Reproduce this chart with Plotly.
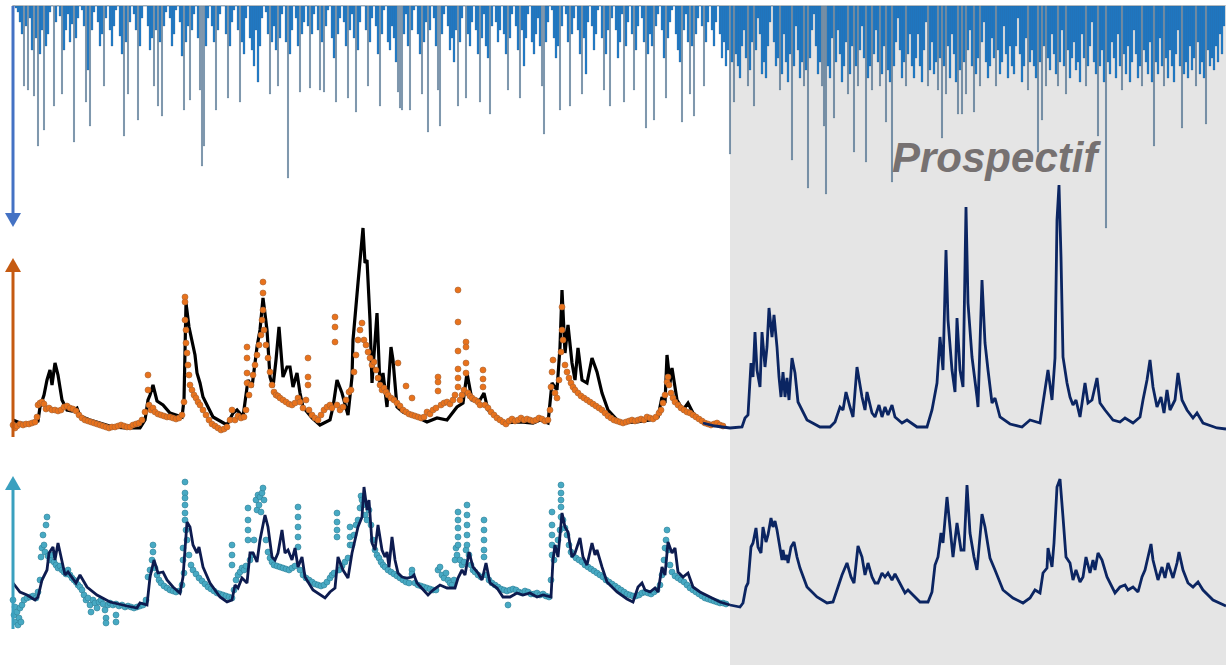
import plotly.graph_objects as go

W, H = 1226, 665

# ---------------- DATA ----------------
# time axis: years since start of record (historic period ends at 7.18, prospective afterwards)
PROSPECTIVE_START = 7.18
T_END = 12.14

# rainfall (mm), one value every 0.02 year starting at 0.02
rain = [
    0, 1, 3, 8, 14, 40, 10, 42, 6, 22, 45, 16, 70, 24, 12, 62, 20, 14, 3, 0,
    50, 8, 0, 5, 44, 22, 12, 4, 18, 9, 68, 16, 6, 0, 2, 10, 48, 32, 60, 12,
    3, 0, 8, 20, 14, 40, 6, 0, 12, 20,
    10, 2, 0, 15, 24, 65, 18, 44, 8, 0, 4, 12, 57, 20, 6, 0, 0, 10, 22, 16,
    40, 12, 50, 18, 55, 10, 3, 0, 6, 20, 14, 2, 0, 8, 25, 52, 18, 10, 47, 12,
    4, 0, 16, 42, 80, 70, 20, 6, 0, 10,
    18, 52, 12, 4, 0, 0, 14, 46, 20, 8, 2, 0, 12, 48, 18, 24, 6, 0, 16, 22,
    30, 12, 38, 20, 6, 0, 3, 14, 44, 18, 10, 22, 40, 16, 4, 0, 18, 86, 24, 12,
    0, 6, 20, 43, 14, 8, 0, 10, 41, 14,
    4, 0, 12, 42, 18, 43, 10, 2, 0, 16, 26, 48, 14, 6, 0, 8, 20, 46, 12, 4,
    16, 53, 22, 8, 0, 0, 12, 40, 18, 6, 0, 10, 24, 50, 14, 2, 0, 18, 22, 10,
    16, 28, 43, 51, 52, 14, 4, 20, 52, 12,
    2, 0, 14, 24, 44, 18, 8, 63, 12, 0, 6, 20, 42, 60, 14, 4, 0, 10, 22, 16,
    28, 12, 50, 18, 6, 0, 46, 14, 20, 8, 0, 12, 24, 48, 16, 4, 20, 26, 54, 10,
    0, 8, 18, 12, 0, 14, 24, 42, 16, 4,
    0, 10, 22, 46, 12, 30, 16, 4, 0, 18, 24, 14, 6, 20, 40, 64, 18, 8, 0, 2,
    16, 26, 20, 52, 10, 0, 4, 18, 50, 14, 6, 0, 12, 24, 44, 16, 34, 8, 0, 10,
    22, 14, 2, 0, 16, 42, 24, 12, 50, 6,
    0, 12, 26, 18, 4, 48, 20, 8, 0, 14, 42, 22, 10, 0, 6, 18, 61, 24, 14, 20,
    57, 10, 4, 0, 12, 26, 46, 16, 8, 2, 0, 14, 22, 28, 58, 12, 4, 18, 44, 20,
    55, 14, 6, 0, 10, 40, 18, 8, 0, 12,
    20, 8, 0, 14, 26, 18, 30, 22, 74, 28, 48, 24, 30, 36, 20, 12, 26, 40, 32, 18,
    50, 22, 6, 14, 34, 28, 36, 20, 8, 0, 18, 30, 26, 42, 34, 14, 28, 38, 24, 77,
    30, 10, 22, 36, 28, 40, 32, 91, 26, 12,
    4, 20, 34, 28, 40, 60, 94, 30, 36, 16, 56, 28, 12, 24, 38, 30, 18, 44, 34, 20,
    73, 30, 40, 22, 10, 26, 78, 36, 30, 42, 24, 12, 28, 40, 34, 20, 58, 32, 38, 88,
    30, 18, 6, 22, 36, 28, 40, 24, 14, 30,
    36, 26, 14, 30, 38, 22, 8, 40, 32, 18, 34, 28, 42, 26, 66, 30, 44, 20, 36, 14,
    24, 38, 54, 32, 54, 28, 44, 22, 12, 30, 53, 34, 26, 40, 18, 8, 28, 36, 30, 16,
    26, 40, 22, 34, 28, 10, 24, 36, 20, 30,
    34, 20, 6, 24, 38, 30, 16, 42, 28, 22, 30, 36, 73, 28, 57, 20, 40, 26, 32, 14,
    24, 34, 40, 28, 12, 30, 44, 22, 36, 26, 18, 32, 28, 38, 14, 26, 40, 30, 20, 8,
    28, 34, 65, 30, 22, 38, 111, 28, 34, 18,
    26, 36, 14, 30, 42, 24, 34, 20, 38, 28, 12, 24, 36, 30, 40, 22, 28, 34, 18, 38,
    70, 28, 34, 16, 30, 40, 26, 36, 22, 30, 38, 24, 12, 30, 61, 34, 28, 36, 20, 32,
    26, 40, 18, 34, 28, 36, 59, 22, 30, 26,
    32, 20, 28, 14, 24, 10,
]
rain_t = [round(0.02 + 0.02 * i, 2) for i in range(len(rain))]

# simulated discharge, historic period (time, m3/s)
sim_q = [
    (0.01, 1.7), (0.08, 1.4), (0.18, 1.3), (0.26, 1.6), (0.28, 3.0), (0.32, 4.2), (0.35, 5.7),
    (0.38, 6.7), (0.40, 5.2), (0.43, 7.4), (0.46, 6.2), (0.50, 3.7), (0.55, 2.7), (0.60, 2.6),
    (0.65, 2.9), (0.68, 2.1), (0.78, 1.7), (0.88, 1.4), (1.01, 1.0), (1.13, 0.9), (1.28, 0.9),
    (1.33, 1.7), (1.36, 3.7), (1.38, 4.2), (1.41, 5.2), (1.45, 3.6), (1.51, 3.2), (1.58, 2.4),
    (1.70, 2.0), (1.72, 3.7), (1.74, 13.4), (1.77, 11.0), (1.80, 9.4), (1.83, 8.2), (1.85, 6.4),
    (1.88, 5.4), (1.91, 4.0), (2.01, 2.0), (2.15, 1.2), (2.21, 2.4), (2.25, 2.7), (2.31, 2.0),
    (2.36, 5.7), (2.40, 5.0), (2.45, 9.0), (2.48, 10.7), (2.51, 13.9), (2.55, 10.7), (2.58, 6.0),
    (2.61, 5.0), (2.64, 7.7), (2.67, 11.0), (2.71, 6.0), (2.75, 7.0), (2.78, 7.0), (2.81, 5.0),
    (2.85, 6.4), (2.88, 4.4), (2.91, 3.0), (3.00, 1.9), (3.08, 1.2), (3.18, 1.7), (3.21, 3.0),
    (3.25, 5.7), (3.30, 4.4), (3.36, 2.2), (3.40, 6.0), (3.41, 9.7), (3.46, 15.4), (3.49, 18.7),
    (3.51, 20.9), (3.53, 17.4), (3.55, 17.7), (3.58, 11.7), (3.60, 5.4), (3.65, 12.4), (3.68, 5.0),
    (3.71, 6.4), (3.75, 3.0), (3.79, 9.0), (3.81, 7.7), (3.85, 3.0), (3.91, 2.5), (4.05, 2.0),
    (4.15, 1.5), (4.25, 1.9), (4.35, 1.7), (4.45, 3.0), (4.51, 3.4), (4.55, 6.4), (4.60, 3.7),
    (4.68, 3.7), (4.72, 4.4), (4.76, 2.7), (4.81, 2.4), (4.91, 1.4), (5.08, 1.5), (5.21, 1.4),
    (5.28, 1.7), (5.36, 1.4), (5.40, 5.4), (5.45, 4.7), (5.48, 9.0), (5.50, 14.7), (5.53, 8.4),
    (5.56, 11.2), (5.60, 7.4), (5.63, 5.7), (5.66, 8.9), (5.70, 5.7), (5.75, 5.4), (5.80, 7.9),
    (5.85, 6.5), (5.90, 4.4), (5.96, 2.7), (6.08, 1.4), (6.25, 1.5), (6.38, 1.7), (6.46, 2.0),
    (6.50, 4.0), (6.53, 3.4), (6.55, 8.2), (6.58, 5.4), (6.60, 6.9), (6.65, 3.7), (6.71, 2.7),
    (6.76, 3.4), (6.81, 2.4), (6.91, 1.4), (7.00, 1.2),
]

# projected discharge
proj_q = [
    (6.91, 1.4), (7.03, 1.1), (7.18, 0.9), (7.30, 1.0), (7.33, 1.9), (7.36, 2.2), (7.39, 7.4),
    (7.41, 6.0), (7.43, 10.5), (7.45, 6.7), (7.48, 5.0), (7.50, 10.5), (7.53, 7.0), (7.55, 9.0),
    (7.57, 12.9), (7.60, 10.0), (7.62, 12.2), (7.65, 9.0), (7.67, 6.0), (7.69, 4.0), (7.71, 6.5),
    (7.73, 4.0), (7.75, 5.9), (7.77, 3.7), (7.80, 7.9), (7.83, 6.4), (7.86, 3.5), (7.95, 1.7),
    (8.08, 1.0), (8.18, 1.0), (8.23, 1.5), (8.28, 3.0), (8.31, 2.7), (8.34, 4.5), (8.38, 3.0),
    (8.41, 2.0), (8.45, 7.0), (8.50, 4.0), (8.53, 2.7), (8.55, 4.5), (8.60, 2.4), (8.63, 2.0),
    (8.67, 3.2), (8.70, 2.0), (8.73, 3.0), (8.76, 2.2), (8.80, 3.2), (8.83, 2.0), (8.90, 1.4),
    (8.95, 1.7), (9.05, 1.0), (9.15, 1.0), (9.20, 2.7), (9.23, 4.4), (9.25, 5.4), (9.28, 10.0),
    (9.31, 6.7), (9.34, 18.7), (9.36, 11.7), (9.40, 6.7), (9.43, 4.5), (9.45, 11.9), (9.48, 6.7),
    (9.51, 5.0), (9.54, 23.0), (9.56, 13.4), (9.60, 8.0), (9.65, 4.0), (9.66, 3.0), (9.70, 15.7),
    (9.73, 9.4), (9.76, 6.7), (9.80, 3.4), (9.83, 3.9), (9.88, 2.0), (9.98, 1.3), (10.10, 1.0),
    (10.18, 1.7), (10.28, 1.4), (10.31, 3.4), (10.36, 6.7), (10.40, 3.7), (10.43, 7.9),
    (10.45, 21.7), (10.47, 25.2), (10.49, 18.0), (10.51, 8.0), (10.55, 5.4), (10.58, 4.0),
    (10.61, 3.2), (10.64, 3.7), (10.68, 2.0), (10.73, 5.4), (10.76, 3.4), (10.80, 3.7),
    (10.85, 5.9), (10.88, 3.4), (10.93, 2.7), (11.01, 1.7), (11.08, 1.5), (11.13, 1.9),
    (11.21, 1.4), (11.28, 2.0), (11.31, 3.7), (11.35, 5.7), (11.38, 7.7), (11.41, 5.0),
    (11.45, 3.0), (11.49, 4.0), (11.52, 2.4), (11.55, 4.7), (11.58, 2.7), (11.63, 3.7),
    (11.66, 6.4), (11.70, 3.7), (11.75, 2.7), (11.81, 1.9), (11.85, 2.4), (11.91, 1.4),
    (12.05, 0.9), (12.14, 0.8),
]

# observed discharge
obs_q = [
    (0.01, 1.2), (0.03, 0.9), (0.05, 1.1), (0.08, 1.3), (0.11, 1.2), (0.14, 1.3), (0.17, 1.3),
    (0.20, 1.4), (0.23, 1.5), (0.25, 2.0), (0.26, 3.2), (0.28, 3.4), (0.30, 3.5), (0.32, 3.3),
    (0.34, 2.8), (0.37, 2.9), (0.40, 2.7), (0.43, 2.7), (0.46, 2.6), (0.49, 2.7), (0.52, 3.0),
    (0.55, 3.1), (0.58, 2.9), (0.61, 2.8), (0.64, 2.6), (0.67, 2.2), (0.70, 1.9), (0.73, 1.7),
    (0.76, 1.6), (0.79, 1.5), (0.82, 1.4), (0.85, 1.3), (0.88, 1.2), (0.91, 1.1), (0.94, 1.0),
    (0.97, 0.9), (1.00, 1.0), (1.03, 1.0), (1.06, 1.1), (1.09, 1.2), (1.12, 1.1), (1.15, 1.0),
    (1.18, 1.0), (1.21, 1.2), (1.24, 1.3), (1.27, 1.4), (1.30, 1.7), (1.33, 2.5), (1.36, 6.2),
    (1.36, 4.7), (1.37, 3.2), (1.39, 2.7), (1.41, 2.9), (1.43, 2.5), (1.46, 2.3), (1.49, 2.2),
    (1.52, 2.1), (1.55, 2.0), (1.58, 2.0), (1.61, 1.9), (1.64, 1.8), (1.67, 1.9), (1.70, 2.2),
    (1.72, 3.5), (1.73, 14.0), (1.73, 13.5), (1.73, 11.7), (1.74, 10.7), (1.74, 9.4), (1.75, 8.4),
    (1.76, 7.2), (1.77, 6.2), (1.78, 5.2), (1.80, 4.7), (1.82, 4.2), (1.84, 3.9), (1.86, 3.5),
    (1.88, 3.2), (1.91, 2.7), (1.94, 2.2), (1.97, 1.7), (2.00, 1.3), (2.03, 1.1), (2.06, 0.9),
    (2.09, 0.7), (2.12, 0.8), (2.15, 1.0), (2.18, 1.7), (2.20, 2.7), (2.23, 1.7), (2.26, 2.1),
    (2.29, 1.9), (2.32, 2.0), (2.34, 2.7), (2.35, 5.4), (2.35, 6.4), (2.35, 7.9), (2.35, 9.0),
    (2.37, 4.2), (2.39, 5.2), (2.41, 6.2), (2.43, 7.2), (2.45, 8.2), (2.47, 9.2), (2.49, 10.2),
    (2.50, 11.7), (2.51, 12.7), (2.51, 14.4), (2.51, 15.5), (2.52, 10.7), (2.54, 9.2), (2.56, 7.9),
    (2.58, 6.5), (2.60, 5.2), (2.62, 4.5), (2.64, 4.2), (2.66, 4.1), (2.68, 3.9), (2.71, 3.7),
    (2.74, 3.5), (2.77, 3.3), (2.80, 3.2), (2.83, 3.4), (2.86, 3.9), (2.88, 3.5), (2.91, 2.9),
    (2.94, 3.7), (2.96, 7.9), (2.96, 6.0), (2.96, 5.2), (2.97, 2.7), (3.00, 2.2), (3.03, 1.9),
    (3.06, 1.7), (3.09, 2.2), (3.12, 2.7), (3.15, 3.0), (3.18, 3.2), (3.20, 2.9), (3.23, 9.5),
    (3.23, 11.0), (3.23, 12.0), (3.25, 3.2), (3.28, 2.7), (3.31, 3.0), (3.34, 3.7), (3.37, 4.5),
    (3.39, 4.7), (3.42, 6.5), (3.44, 8.2), (3.46, 9.7), (3.48, 10.7), (3.50, 11.4), (3.52, 9.7),
    (3.54, 9.2), (3.56, 8.5), (3.58, 7.9), (3.60, 7.2), (3.62, 7.5), (3.64, 6.7), (3.66, 5.9),
    (3.68, 5.2), (3.70, 4.7), (3.72, 4.9), (3.74, 4.5), (3.76, 4.2), (3.79, 3.9), (3.82, 3.7),
    (3.85, 3.4), (3.86, 7.4), (3.88, 3.1), (3.91, 2.7), (3.94, 5.1), (3.94, 2.5), (3.97, 2.3),
    (4.00, 3.9), (4.00, 2.2), (4.03, 2.1), (4.06, 2.0), (4.09, 1.9), (4.12, 2.0), (4.15, 2.5),
    (4.18, 2.3), (4.21, 2.7), (4.24, 2.9), (4.26, 6.0), (4.26, 5.5), (4.26, 4.6), (4.29, 3.2),
    (4.32, 3.4), (4.35, 3.5), (4.38, 3.3), (4.41, 3.7), (4.43, 4.2), (4.46, 14.7), (4.46, 11.5),
    (4.46, 8.6), (4.46, 6.8), (4.46, 5.9), (4.46, 5.0), (4.48, 3.7), (4.50, 4.2), (4.52, 4.7),
    (4.54, 9.5), (4.54, 9.0), (4.54, 7.4), (4.54, 6.4), (4.56, 4.4), (4.58, 4.1), (4.60, 3.9),
    (4.63, 3.7), (4.66, 3.5), (4.68, 3.2), (4.71, 6.7), (4.71, 5.8), (4.71, 5.0), (4.73, 3.2),
    (4.76, 2.9), (4.79, 2.5), (4.82, 2.2), (4.85, 1.9), (4.88, 1.7), (4.91, 1.5), (4.94, 1.3),
    (4.97, 1.6), (5.00, 1.8), (5.03, 1.6), (5.06, 1.7), (5.09, 1.9), (5.12, 1.7), (5.15, 1.8),
    (5.18, 1.7), (5.21, 1.6), (5.24, 1.7), (5.27, 1.9), (5.30, 1.8), (5.33, 1.6), (5.36, 1.7),
    (5.38, 2.7), (5.39, 5.0), (5.40, 6.5), (5.41, 7.7), (5.43, 4.4), (5.45, 3.9), (5.47, 5.7),
    (5.49, 8.5), (5.50, 10.7), (5.50, 13.0), (5.51, 9.7), (5.53, 7.2), (5.55, 6.5), (5.57, 5.9),
    (5.59, 5.4), (5.61, 5.0), (5.63, 4.7), (5.66, 4.4), (5.69, 4.1), (5.72, 3.9), (5.75, 3.7),
    (5.78, 3.5), (5.81, 3.3), (5.84, 3.1), (5.87, 2.9), (5.90, 2.7), (5.93, 2.4), (5.96, 2.1),
    (5.99, 1.9), (6.02, 1.7), (6.05, 1.6), (6.08, 1.5), (6.11, 1.4), (6.14, 1.5), (6.17, 1.6),
    (6.20, 1.7), (6.23, 1.6), (6.26, 1.7), (6.29, 1.8), (6.32, 1.7), (6.35, 2.0), (6.38, 1.9),
    (6.41, 1.8), (6.44, 2.0), (6.47, 2.4), (6.49, 2.7), (6.51, 3.4), (6.53, 4.2), (6.55, 5.5),
    (6.56, 6.0), (6.57, 5.2), (6.59, 4.4), (6.61, 3.9), (6.63, 3.5), (6.66, 3.2), (6.69, 2.9),
    (6.72, 2.7), (6.75, 2.5), (6.78, 2.4), (6.81, 2.2), (6.84, 2.0), (6.87, 1.8), (6.90, 1.6),
    (6.93, 1.4), (6.96, 1.3), (6.99, 1.2), (7.02, 1.3), (7.05, 1.4), (7.08, 1.2), (7.11, 1.1),
]

# simulated groundwater level, historic period (time, m)
sim_h = [
    (0.01, 4.7), (0.08, 3.8), (0.15, 3.5), (0.23, 3.0), (0.26, 3.3), (0.30, 5.0), (0.35, 6.0),
    (0.37, 7.7), (0.41, 8.3), (0.43, 7.0), (0.46, 8.7), (0.50, 6.7), (0.53, 5.5), (0.56, 5.8),
    (0.60, 5.2), (0.64, 4.7), (0.68, 5.5), (0.75, 4.3), (0.85, 3.5), (0.98, 2.8), (1.15, 2.4),
    (1.25, 2.2), (1.28, 2.7), (1.35, 2.5), (1.38, 5.3), (1.42, 7.0), (1.46, 5.7), (1.51, 5.8),
    (1.55, 5.0), (1.61, 4.3), (1.68, 3.7), (1.71, 5.3), (1.75, 10.8), (1.78, 10.3), (1.81, 8.5),
    (1.85, 7.7), (1.87, 8.3), (1.91, 6.3), (1.98, 4.7), (2.08, 3.3), (2.15, 2.8), (2.20, 3.0),
    (2.23, 4.5), (2.26, 4.2), (2.30, 5.2), (2.35, 4.7), (2.38, 7.7), (2.41, 7.7), (2.45, 6.8),
    (2.48, 9.0), (2.53, 11.5), (2.56, 10.3), (2.60, 7.3), (2.63, 7.0), (2.66, 7.7), (2.70, 10.0),
    (2.73, 7.7), (2.76, 8.0), (2.80, 7.0), (2.83, 8.2), (2.86, 6.3), (2.90, 7.3), (2.93, 5.3),
    (3.01, 4.0), (3.13, 3.2), (3.18, 3.8), (3.23, 4.2), (3.26, 7.3), (3.31, 6.0), (3.36, 5.2),
    (3.40, 7.7), (3.43, 9.0), (3.46, 10.3), (3.50, 11.3), (3.52, 14.3), (3.55, 12.0), (3.57, 13.0),
    (3.60, 8.7), (3.63, 8.0), (3.66, 10.5), (3.70, 8.0), (3.73, 7.3), (3.75, 7.8), (3.77, 6.3),
    (3.80, 9.3), (3.83, 7.0), (3.86, 5.7), (3.90, 5.3), (3.95, 5.2), (4.00, 5.3), (4.02, 5.5),
    (4.05, 4.7), (4.11, 4.0), (4.16, 3.5), (4.21, 4.0), (4.28, 4.5), (4.35, 4.2), (4.43, 4.2),
    (4.46, 5.2), (4.50, 6.0), (4.53, 5.5), (4.57, 7.8), (4.61, 6.3), (4.66, 5.7), (4.70, 5.0),
    (4.74, 6.7), (4.78, 4.7), (4.85, 4.2), (4.91, 3.3), (4.98, 3.3), (5.05, 3.7), (5.11, 3.5),
    (5.18, 3.7), (5.25, 3.3), (5.31, 3.5), (5.39, 3.3), (5.41, 7.0), (5.43, 8.5), (5.46, 7.3),
    (5.50, 11.7), (5.53, 10.3), (5.56, 9.8), (5.60, 7.3), (5.63, 7.7), (5.68, 9.2), (5.71, 7.3),
    (5.75, 6.5), (5.80, 8.7), (5.83, 7.5), (5.85, 8.0), (5.90, 6.3), (5.95, 4.8), (6.05, 3.8),
    (6.15, 3.1), (6.21, 2.8), (6.26, 4.3), (6.30, 4.7), (6.33, 4.0), (6.38, 3.8), (6.43, 4.2),
    (6.46, 3.8), (6.50, 6.3), (6.53, 5.5), (6.56, 8.8), (6.60, 7.7), (6.63, 8.2), (6.66, 5.8),
    (6.71, 5.3), (6.76, 5.7), (6.81, 4.3), (6.88, 3.8), (6.98, 3.3), (7.08, 2.8), (7.18, 2.5),
]

# projected groundwater level
proj_h = [
    (7.18, 2.5), (7.28, 2.3), (7.31, 2.7), (7.34, 4.3), (7.36, 4.7), (7.39, 8.3), (7.41, 8.7),
    (7.44, 10.2), (7.46, 8.3), (7.49, 7.7), (7.51, 10.3), (7.54, 8.8), (7.56, 9.5), (7.59, 11.2),
    (7.61, 10.3), (7.63, 10.9), (7.65, 10.0), (7.68, 8.0), (7.70, 7.0), (7.71, 8.0), (7.73, 7.0),
    (7.75, 7.5), (7.76, 6.7), (7.79, 8.3), (7.82, 8.8), (7.85, 7.3), (7.88, 6.2), (7.95, 4.3),
    (8.05, 3.3), (8.15, 2.7), (8.21, 2.8), (8.25, 4.0), (8.30, 5.5), (8.35, 6.7), (8.39, 5.3),
    (8.42, 4.7), (8.46, 8.4), (8.50, 7.3), (8.53, 5.5), (8.56, 6.7), (8.60, 5.3), (8.63, 4.7),
    (8.66, 4.7), (8.70, 5.7), (8.73, 5.3), (8.76, 5.7), (8.80, 5.0), (8.83, 5.6), (8.88, 4.7),
    (8.93, 3.7), (8.96, 4.0), (9.01, 3.5), (9.08, 2.8), (9.16, 2.8), (9.20, 3.8), (9.23, 6.5),
    (9.26, 7.3), (9.29, 9.7), (9.31, 8.7), (9.35, 13.3), (9.38, 10.0), (9.41, 7.3), (9.45, 10.7),
    (9.49, 8.0), (9.52, 8.0), (9.55, 14.5), (9.58, 9.7), (9.62, 7.3), (9.65, 6.0), (9.70, 11.6),
    (9.73, 10.3), (9.78, 7.2), (9.83, 6.0), (9.91, 4.0), (10.01, 3.2), (10.11, 2.7), (10.18, 3.2),
    (10.23, 4.0), (10.28, 3.7), (10.31, 5.7), (10.35, 6.2), (10.36, 8.2), (10.40, 6.3),
    (10.42, 8.7), (10.45, 14.3), (10.48, 15.1), (10.51, 11.3), (10.54, 7.3), (10.58, 6.7),
    (10.61, 5.0), (10.64, 6.0), (10.68, 4.8), (10.71, 5.3), (10.74, 7.3), (10.78, 5.7),
    (10.81, 7.0), (10.83, 6.0), (10.86, 7.7), (10.90, 7.0), (10.95, 5.3), (11.03, 3.7),
    (11.08, 4.3), (11.13, 4.5), (11.16, 4.0), (11.21, 4.3), (11.26, 3.8), (11.30, 5.3),
    (11.33, 6.0), (11.36, 7.3), (11.39, 8.6), (11.41, 7.0), (11.46, 5.0), (11.50, 6.3),
    (11.53, 5.2), (11.56, 6.7), (11.61, 5.2), (11.65, 6.7), (11.67, 7.8), (11.71, 6.0),
    (11.76, 4.7), (11.81, 4.3), (11.86, 4.8), (11.91, 4.0), (12.01, 3.0), (12.14, 2.4),
]

# observed groundwater level
obs_h = [
    (0.01, 3.0), (0.02, 1.5), (0.03, 2.3), (0.04, 0.8), (0.05, 1.8), (0.06, 0.5), (0.07, 1.2),
    (0.08, 2.2), (0.09, 0.8), (0.10, 2.5), (0.12, 3.0), (0.15, 3.2), (0.18, 3.3), (0.21, 3.4),
    (0.24, 3.2), (0.26, 3.8), (0.28, 5.0), (0.29, 7.3), (0.30, 8.2), (0.31, 9.5), (0.32, 8.5),
    (0.33, 7.8), (0.34, 10.5), (0.35, 11.3), (0.36, 7.4), (0.38, 7.0), (0.40, 7.5), (0.42, 6.8),
    (0.44, 6.5), (0.46, 6.2), (0.48, 6.4), (0.50, 6.0), (0.52, 5.8), (0.54, 5.6), (0.56, 6.0),
    (0.58, 5.5), (0.60, 5.2), (0.62, 5.0), (0.64, 4.8), (0.66, 4.5), (0.68, 4.3), (0.70, 4.0),
    (0.72, 3.5), (0.74, 3.0), (0.76, 3.2), (0.78, 2.5), (0.79, 1.8), (0.81, 3.0), (0.83, 2.7),
    (0.85, 2.2), (0.87, 2.8), (0.89, 3.0), (0.91, 2.6), (0.93, 2.0), (0.94, 1.2), (0.94, 0.7),
    (0.96, 2.5), (0.98, 2.7), (1.01, 2.5), (1.04, 2.6), (1.04, 1.5), (1.04, 0.8), (1.07, 2.4),
    (1.10, 2.5), (1.13, 2.3), (1.16, 2.4), (1.19, 2.3), (1.22, 2.2), (1.25, 2.3), (1.28, 2.4),
    (1.31, 2.5), (1.34, 3.0), (1.36, 5.3), (1.38, 6.0), (1.40, 7.0), (1.41, 8.5), (1.41, 7.8),
    (1.43, 6.2), (1.45, 5.5), (1.47, 5.0), (1.49, 4.7), (1.52, 4.4), (1.55, 4.2), (1.58, 4.0),
    (1.61, 3.9), (1.64, 3.8), (1.67, 3.9), (1.70, 4.5), (1.71, 7.0), (1.71, 8.2), (1.72, 5.7),
    (1.73, 14.8), (1.73, 13.7), (1.73, 13.2), (1.73, 12.5), (1.73, 11.7), (1.73, 11.0),
    (1.74, 10.0), (1.75, 9.0), (1.77, 7.5), (1.79, 6.5), (1.81, 6.0), (1.84, 5.6), (1.87, 5.2),
    (1.90, 4.9), (1.93, 4.6), (1.96, 4.3), (1.99, 4.1), (2.02, 3.9), (2.05, 3.7), (2.08, 3.6),
    (2.11, 3.5), (2.14, 3.4), (2.17, 3.3), (2.20, 3.2), (2.20, 8.5), (2.20, 7.5), (2.20, 6.5),
    (2.22, 4.0), (2.24, 5.0), (2.26, 5.5), (2.28, 5.8), (2.30, 6.2), (2.32, 6.0), (2.34, 6.4),
    (2.36, 12.2), (2.36, 11.0), (2.36, 10.0), (2.36, 9.0), (2.38, 7.0), (2.40, 7.5), (2.42, 9.0),
    (2.44, 13.0), (2.45, 12.0), (2.46, 13.5), (2.47, 12.5), (2.48, 13.3), (2.49, 11.8),
    (2.50, 13.7), (2.51, 14.2), (2.52, 13.0), (2.54, 9.0), (2.56, 7.8), (2.58, 7.2), (2.60, 6.8),
    (2.62, 6.5), (2.65, 6.4), (2.68, 6.3), (2.71, 6.2), (2.74, 6.1), (2.77, 6.0), (2.80, 6.2),
    (2.83, 6.4), (2.86, 12.3), (2.86, 11.3), (2.86, 10.3), (2.86, 9.3), (2.86, 8.3), (2.88, 6.0),
    (2.91, 5.5), (2.94, 5.2), (2.97, 5.0), (3.00, 4.8), (3.03, 4.6), (3.06, 4.5), (3.09, 4.4),
    (3.12, 4.5), (3.15, 4.8), (3.18, 5.2), (3.20, 5.5), (3.22, 5.7), (3.25, 11.7), (3.25, 10.8),
    (3.25, 10.0), (3.25, 9.3), (3.27, 6.0), (3.30, 6.4), (3.33, 6.8), (3.36, 7.2), (3.38, 10.3),
    (3.38, 9.3), (3.38, 8.5), (3.40, 8.5), (3.42, 9.5), (3.44, 10.5), (3.46, 11.0), (3.48, 12.2),
    (3.49, 13.4), (3.50, 13.0), (3.51, 12.5), (3.53, 11.5), (3.55, 11.0), (3.57, 12.0),
    (3.59, 10.5), (3.61, 9.0), (3.63, 8.0), (3.65, 7.5), (3.67, 7.2), (3.69, 6.8), (3.71, 6.5),
    (3.73, 6.3), (3.76, 6.0), (3.79, 5.8), (3.82, 5.6), (3.85, 5.4), (3.88, 5.2), (3.91, 5.0),
    (3.94, 4.8), (3.97, 4.7), (4.00, 6.0), (4.00, 5.6), (4.03, 4.7), (4.06, 4.5), (4.09, 4.4),
    (4.12, 4.3), (4.15, 4.2), (4.18, 4.1), (4.21, 4.0), (4.24, 4.0), (4.26, 6.0), (4.28, 6.3),
    (4.30, 5.5), (4.32, 5.2), (4.34, 5.7), (4.36, 5.0), (4.38, 4.7), (4.40, 4.5), (4.42, 5.0),
    (4.43, 7.0), (4.44, 8.2), (4.45, 7.5), (4.46, 11.8), (4.46, 11.0), (4.46, 10.2), (4.46, 9.3),
    (4.46, 8.5), (4.48, 7.0), (4.50, 6.5), (4.52, 6.8), (4.54, 8.0), (4.55, 12.5), (4.55, 11.5),
    (4.55, 10.5), (4.55, 9.5), (4.55, 8.5), (4.57, 7.5), (4.59, 6.5), (4.61, 6.0), (4.63, 5.8),
    (4.66, 5.5), (4.69, 5.3), (4.72, 11.0), (4.72, 10.0), (4.72, 9.0), (4.72, 8.0), (4.72, 7.3),
    (4.74, 5.5), (4.77, 5.0), (4.80, 4.7), (4.83, 4.5), (4.86, 4.3), (4.89, 4.1), (4.92, 4.0),
    (4.95, 3.9), (4.96, 2.5), (4.98, 4.0), (5.01, 4.1), (5.04, 4.0), (5.07, 3.8), (5.10, 3.7),
    (5.13, 3.9), (5.16, 3.8), (5.19, 3.6), (5.22, 3.6), (5.25, 3.7), (5.28, 3.5), (5.31, 3.6),
    (5.34, 3.4), (5.37, 3.3), (5.39, 5.0), (5.40, 11.8), (5.40, 10.5), (5.40, 9.5), (5.40, 8.5),
    (5.40, 7.5), (5.42, 7.0), (5.44, 8.2), (5.46, 9.0), (5.48, 10.0), (5.49, 14.5), (5.49, 13.7),
    (5.49, 13.0), (5.49, 12.3), (5.49, 11.3), (5.51, 11.0), (5.53, 10.2), (5.55, 9.5),
    (5.57, 8.5), (5.59, 7.8), (5.61, 7.5), (5.64, 7.2), (5.67, 7.0), (5.70, 6.8), (5.73, 6.5),
    (5.76, 6.3), (5.79, 6.1), (5.82, 5.9), (5.85, 5.7), (5.88, 5.5), (5.91, 5.3), (5.94, 5.0),
    (5.97, 4.8), (6.00, 4.6), (6.03, 4.4), (6.06, 4.2), (6.09, 4.0), (6.12, 3.8), (6.15, 3.6),
    (6.18, 3.5), (6.21, 3.4), (6.24, 3.4), (6.27, 3.5), (6.30, 3.7), (6.33, 3.8), (6.36, 3.7),
    (6.39, 3.6), (6.42, 3.8), (6.45, 4.0), (6.48, 4.5), (6.50, 5.5), (6.52, 7.0), (6.53, 8.2),
    (6.54, 9.0), (6.55, 10.0), (6.56, 8.0), (6.58, 6.5), (6.60, 5.8), (6.63, 5.4), (6.66, 5.2),
    (6.69, 5.0), (6.72, 4.8), (6.75, 4.5), (6.78, 4.2), (6.81, 4.0), (6.84, 3.8), (6.87, 3.6),
    (6.90, 3.4), (6.93, 3.2), (6.96, 3.1), (6.99, 3.0), (7.02, 2.9), (7.05, 2.8), (7.08, 2.7),
    (7.11, 2.7), (7.14, 2.6),
]

label_prospective = "Prospectif"

# ---------------- STYLES ----------------
C_RAIN = "#0a74cc"
C_RAIN_EDGE = "#2c5a80"
C_RAIN_SPIKE = "#52728b"
C_SIM = "#000000"
C_NAVY = "#0b2562"
C_ORANGE = "#e8721c"
C_ORANGE_EDGE = "#a86334"
C_TEAL = "#47a9c3"
C_TEAL_EDGE = "#2f8298"
C_SHADE = "#e5e5e5"
SPIKE_MM = 40  # heavier daily totals drawn as thin slate spikes


def px2x(p):
    return p / W


def px2y(p):
    return 1 - p / H


def unzip(pts):
    return [p[0] for p in pts], [p[1] for p in pts]


fig = go.Figure()

# rainfall (hanging bars)
bar_colors = [C_RAIN_SPIKE if v >= SPIKE_MM else C_RAIN for v in rain]
bar_widths = [0.011 if v >= SPIKE_MM else 0.018 for v in rain]
fig.add_trace(go.Bar(
    x=rain_t, y=rain, yaxis="y3", width=bar_widths,
    marker=dict(color=bar_colors, line=dict(color=C_RAIN_EDGE, width=0.3)),
    showlegend=False, hoverinfo="skip",
))

# discharge panel
x, y = unzip(sim_q)
fig.add_trace(go.Scatter(x=x, y=y, yaxis="y2", mode="lines",
                         line=dict(color=C_SIM, width=3.2), showlegend=False))
x, y = unzip(obs_q)
fig.add_trace(go.Scatter(x=x, y=y, yaxis="y2", mode="markers",
                         marker=dict(color=C_ORANGE, size=6, line=dict(color=C_ORANGE_EDGE, width=0.6)),
                         showlegend=False))
x, y = unzip(proj_q)
fig.add_trace(go.Scatter(x=x, y=y, yaxis="y2", mode="lines",
                         line=dict(color=C_NAVY, width=2.8), showlegend=False))

# groundwater panel
x, y = unzip(obs_h)
fig.add_trace(go.Scatter(x=x, y=y, yaxis="y", mode="markers",
                         marker=dict(color=C_TEAL, size=6, line=dict(color=C_TEAL_EDGE, width=0.6)),
                         showlegend=False))
x, y = unzip(sim_h)
fig.add_trace(go.Scatter(x=x, y=y, yaxis="y", mode="lines",
                         line=dict(color="#0d1b4f", width=2.8), showlegend=False))
x, y = unzip(proj_h)
fig.add_trace(go.Scatter(x=x, y=y, yaxis="y", mode="lines",
                         line=dict(color=C_NAVY, width=2.8), showlegend=False))

shapes = [
    # prospective shading
    dict(type="rect", xref="x", yref="paper", x0=PROSPECTIVE_START, x1=T_END,
         y0=0, y1=px2y(6), fillcolor=C_SHADE, line=dict(width=0), layer="below"),
    # rainfall baseline
    dict(type="line", xref="paper", yref="paper", x0=px2x(12), x1=1, y0=px2y(5.5), y1=px2y(5.5),
         line=dict(color="#c9c9c9", width=1), layer="below"),
]


def arrow(x, y_from, y_to, color):
    head = 14
    direction = 1 if y_to > y_from else -1
    y_base = y_to - direction * head
    shapes.append(dict(type="line", xref="paper", yref="paper",
                       x0=px2x(x), x1=px2x(x), y0=px2y(y_from), y1=px2y(y_base),
                       line=dict(color=color, width=3)))
    path = "M {} {} L {} {} L {} {} Z".format(
        px2x(x - 8), px2y(y_base), px2x(x + 8), px2y(y_base), px2x(x), px2y(y_to))
    shapes.append(dict(type="path", xref="paper", yref="paper", path=path,
                       fillcolor=color, line=dict(color=color, width=0)))


arrow(13, 6, 227, "#4472c4")
arrow(13, 437, 258, "#c55a11")
arrow(13, 629, 476, "#3aa0bf")

fig.update_layout(
    width=W, height=H, autosize=False,
    margin=dict(l=0, r=0, t=0, b=0, pad=0),
    paper_bgcolor="white", plot_bgcolor="white",
    showlegend=False,
    shapes=shapes,
    xaxis=dict(range=[-0.12, T_END], visible=False, showgrid=False, zeroline=False),
    yaxis=dict(range=[-3.5, 63.0], visible=False, showgrid=False, zeroline=False, domain=[0, 1]),
    yaxis2=dict(range=[-22.8, 43.7], visible=False, showgrid=False, zeroline=False,
                overlaying="y", anchor="x"),
    yaxis3=dict(range=[329.5, -3.0], visible=False, showgrid=False, zeroline=False,
                overlaying="y", anchor="x"),
    annotations=[dict(
        text="<b><i>" + label_prospective + "</i></b>", xref="paper", yref="paper",
        x=px2x(996), y=px2y(157), xanchor="center", yanchor="middle", showarrow=False,
        font=dict(family="Liberation Sans, Arial, sans-serif", size=42, color="#767171"),
    )],
)

fig.write_html("out.html")
